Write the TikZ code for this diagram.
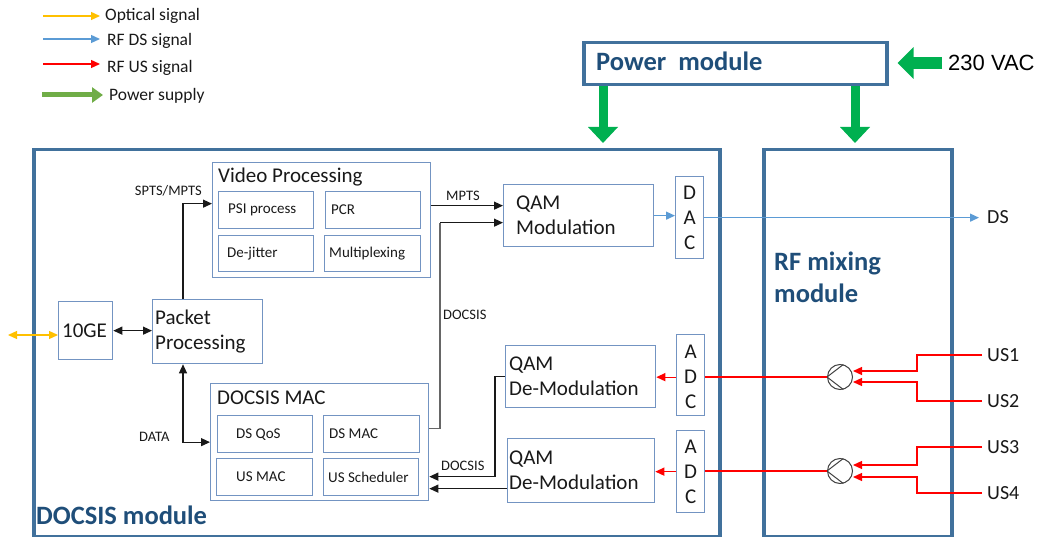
\documentclass[tikz,border=0pt]{standalone}
\usepackage{fontspec}
\setmainfont{Carlito}
\newfontfamily\arialf{Liberation Sans}
\usetikzlibrary{arrows.meta}
\definecolor{modblue}{HTML}{41719C}
\definecolor{boxblue}{HTML}{7394C2}
\definecolor{titleblue}{HTML}{1F4E79}
\definecolor{pgreen}{HTML}{00B050}
\definecolor{lgreen}{HTML}{70AD47}
\definecolor{optyellow}{HTML}{FFC000}
\definecolor{dsblue}{HTML}{5B9BD5}
\definecolor{usred}{HTML}{FF0000}
\tikzset{
 module/.style={draw=modblue,line width=3.5pt,anchor=north west,inner sep=0pt},
 ibox/.style={draw=boxblue,line width=1.3pt,anchor=north west,inner sep=0pt},
 txt/.style={inner sep=0pt,text=black!90,anchor=west},
 big/.style={font=\fontsize{21}{25}\selectfont},
 small/.style={font=\fontsize{15}{18}\selectfont},
 lbl/.style={font=\fontsize{14.5}{17}\selectfont},
 leg/.style={font=\fontsize{17.5}{21}\selectfont},
 usl/.style={font=\fontsize{20}{24}\selectfont},
 modtitle/.style={font=\bfseries\fontsize{26.5}{32}\selectfont,text=titleblue},
 tip/.style={-{Triangle[length=9pt,width=8pt]}},
 bi/.style={arrows={Triangle[length=9pt,width=8pt]-Triangle[length=9pt,width=8pt]}},
 sig/.style={draw=black!90,line width=1.2pt},
 dsig/.style={draw=dsblue,line width=1.3pt},
 usig/.style={draw=usred,line width=1.3pt},
 osig/.style={draw=optyellow,line width=1.3pt},
 pwr/.style={draw=pgreen,line width=9pt,-{Triangle[length=16pt,width=29pt]}},
 comb/.style={circle,draw=black!75,line width=1pt,minimum size=25pt,inner sep=0pt},
}
\begin{document}
\begin{tikzpicture}[x=1pt,y=-1pt]
\useasboundingbox (0,0) rectangle (1038,537);

% ---------- legend ----------
\coordinate (l1) at (43,16);
\coordinate (l2) at (43,39);
\coordinate (l3) at (43,64);
\coordinate (l4) at (42,95);
\node[txt,leg] (lt1) at (105,16) {Optical signal};
\node[txt,leg] (lt2) at (107,41) {RF DS signal};
\node[txt,leg] (lt3) at (107,68) {RF US signal};
\node[txt,leg] (lt4) at (109,96) {Power supply};
\draw[osig,tip,shorten >=5pt] (l1) -- (l1 -| lt1.west);
\draw[dsig,tip,shorten >=7pt] (l2) -- (l2 -| lt2.west);
\draw[usig,tip,shorten >=7pt] (l3) -- (l3 -| lt3.west);
\draw[draw=lgreen,line width=5pt,-{Triangle[length=11pt,width=15pt]},shorten >=6pt] (l4) -- (l4 -| lt4.west);

% ---------- modules ----------
\node[module,minimum width=303pt,minimum height=42pt] (pm) at (582,41) {};
\node[txt,modtitle] (pmt) at (596,61) {Power\ \ module};
\node[module,minimum width=686pt,minimum height=387pt] (dm) at (32,148) {};
\node[txt,modtitle] (dmt) at (36,515) {DOCSIS module};
\node[module,minimum width=188pt,minimum height=387pt] (rm) at (762,148) {};
\node[txt,modtitle,align=left] (rmt) at (774,277) {RF mixing\\module};

\node[txt,font=\arialf\fontsize{22}{26}\selectfont,text=black] (vac) at (948,63) {230 VAC};
\draw[pwr,line width=12pt,-{Triangle[length=16pt,width=31pt]}] ([xshift=-6pt]vac.west) -- ([xshift=9pt]pm.east |- vac.west);
\coordinate (p1) at (603,0);
\coordinate (p2) at (855,0);
\draw[pwr,shorten >=5pt] (pm.south -| p1) -- (dm.north -| p1);
\draw[pwr,shorten >=5pt] (pm.south -| p2) -- (rm.north -| p2);

% ---------- video processing ----------
\node[ibox,minimum width=218pt,minimum height=115pt] (vp) at (212,162) {};
\node[txt,big] (vpt) at (218,177) {Video Processing};
\node[ibox,minimum width=95pt,minimum height=37pt] (psi) at (218,191) {};
\node[ibox,minimum width=95pt,minimum height=37pt] (pcr) at (325,191) {};
\node[ibox,minimum width=95pt,minimum height=36pt] (dej) at (218,235) {};
\node[ibox,minimum width=96pt,minimum height=36pt] (mux) at (324,235) {};
\node[txt,small] at ([xshift=10pt]psi.west) {PSI process};
\node[txt,small] at ([xshift=6pt]pcr.west) {PCR};
\node[txt,small] at ([xshift=9pt]dej.west) {De-jitter};
\node[txt,small] at ([xshift=5pt]mux.west) {Multiplexing};

% ---------- 10GE / packet ----------
\node[ibox,minimum width=54pt,minimum height=58pt] (tenge) at (58,301) {};
\node[txt,big] at ([xshift=4pt]tenge.west) {10GE};
\node[ibox,minimum width=110pt,minimum height=64pt] (pp) at (152,299) {};
\node[txt,big,align=left] at ([xshift=3pt]pp.west) {Packet\\Processing};

% ---------- DOCSIS MAC ----------
\node[ibox,minimum width=218pt,minimum height=117pt] (mac) at (210,383) {};
\node[txt,big] (mact) at (217,398) {DOCSIS MAC};
\node[ibox,minimum width=95pt,minimum height=37pt] (dsq) at (217,415) {};
\node[ibox,minimum width=96pt,minimum height=37pt] (dsm) at (323,415) {};
\node[ibox,minimum width=96pt,minimum height=37pt] (usm) at (216,458) {};
\node[ibox,minimum width=95pt,minimum height=37pt] (uss) at (323,458) {};
\node[txt,small] at ([xshift=19pt]dsq.west) {DS QoS};
\node[txt,small] at ([xshift=6pt]dsm.west) {DS MAC};
\node[txt,small] at ([xshift=20pt]usm.west) {US MAC};
\node[txt,small] at ([xshift=5pt]uss.west) {US Scheduler};

% ---------- QAM / DAC / ADC ----------
\node[ibox,minimum width=150pt,minimum height=62pt] (qam) at (503,184) {};
\node[txt,big,align=left] at ([xshift=13pt]qam.west) {QAM\\Modulation};
\node[ibox,minimum width=28pt,minimum height=82pt] (dac) at (675,176) {};
\node[inner sep=0pt,big,align=center,text=black!90] at (dac.center) {D\\A\\C};

\node[ibox,minimum width=150pt,minimum height=62pt] (dm1) at (505,345) {};
\node[txt,big,align=left] at ([xshift=4pt]dm1.west) {QAM\\De-Modulation};
\node[ibox,minimum width=28pt,minimum height=81pt] (adc1) at (676,334) {};
\node[inner sep=0pt,big,align=center,text=black!90] at ([yshift=-2pt]adc1.center) {A\\D\\C};

\node[ibox,minimum width=147pt,minimum height=64pt] (dm2) at (507,438) {};
\node[txt,big,align=left] at ([xshift=2pt]dm2.west) {QAM\\De-Modulation};
\node[ibox,minimum width=28pt,minimum height=82pt] (adc2) at (676,430) {};
\node[inner sep=0pt,big,align=center,text=black!90] at (adc2.center) {A\\D\\C};

% ---------- combiners and outputs ----------
\node[comb] (c1) at (840,377) {};
\node[comb] (c2) at (840,471) {};
\draw[black!75,line width=1pt] (c1.75) -- (c1.west) -- (c1.-75);
\draw[black!75,line width=1pt] (c2.75) -- (c2.west) -- (c2.-75);

\node[txt,usl] (ds) at (987,217) {DS};
\node[txt,usl] (us1) at (987,355) {US1};
\node[txt,usl] (us2) at (987,401) {US2};
\node[txt,usl] (us3) at (987,447) {US3};
\node[txt,usl] (us4) at (987,493) {US4};

% ---------- connectors ----------
\coordinate (o1) at (8,335);
\draw[osig,bi] (o1) -- (o1 -| tenge.west);
\draw[sig,bi] (tenge.east) -- (tenge.east -| pp.west);
\draw[sig,tip] ([xshift=31pt]pp.north west) |- ([yshift=16.5pt]vp.west);
\node[txt,lbl,anchor=east] at (202,191) {SPTS/MPTS};
\draw[sig,bi] (mac.west) -| ([xshift=31pt]pp.south west);
\node[txt,lbl] at (139,437) {DATA};

\draw[sig,tip] ([yshift=14.5pt]vp.east) -- ([yshift=10pt]qam.west);
\node[txt,lbl] at (446,196) {MPTS};
\draw[draw=black!60,line width=1.2pt] ([yshift=13.5pt]mac.east) -| ([xshift=-63pt,yshift=-7pt]qam.west);
\draw[sig,tip] ([xshift=-63pt,yshift=-7pt]qam.west) -- ([yshift=-7pt]qam.west);
\node[txt,lbl] at (443,315) {DOCSIS};

\draw[sig,tip] (dm1.west) -- ++(-10,0) |- ([yshift=-34.5pt]mac.east);
\node[txt,lbl] at (441,466) {DOCSIS};
\draw[sig,tip] ([yshift=-18pt]dm2.west) -- ([yshift=-18pt]dm2.west -| mac.east);

\draw[dsig,tip] (qam.east) -- (qam.east -| dac.west);
\draw[dsig,tip,shorten >=8pt] (dac.east) -- (dac.east -| ds.west);

\draw[usig,tip] ([yshift=-2pt]adc1.west) -- ([yshift=-2pt]adc1.west -| dm1.east);
\draw[usig] (c1.west) -- (c1.west -| adc1.east);
\draw[usig,tip] (adc2.west) -- (adc2.west -| dm2.east);
\draw[usig] (c2.west) -- (c2.west -| adc2.east);

\draw[usig,tip] ([xshift=-5pt]us1.west) -- ++(-65,0) |- ([yshift=6pt]c1.east);
\draw[usig,tip] ([xshift=-5pt]us2.west) -- ++(-65,0) |- ([yshift=-5pt]c1.east);
\draw[usig,tip] ([xshift=-5pt]us3.west) -- ++(-65,0) |- ([yshift=6pt]c2.east);
\draw[usig,tip] ([xshift=-5pt]us4.west) -- ++(-65,0) |- ([yshift=-6pt]c2.east);
\end{tikzpicture}
\end{document}
